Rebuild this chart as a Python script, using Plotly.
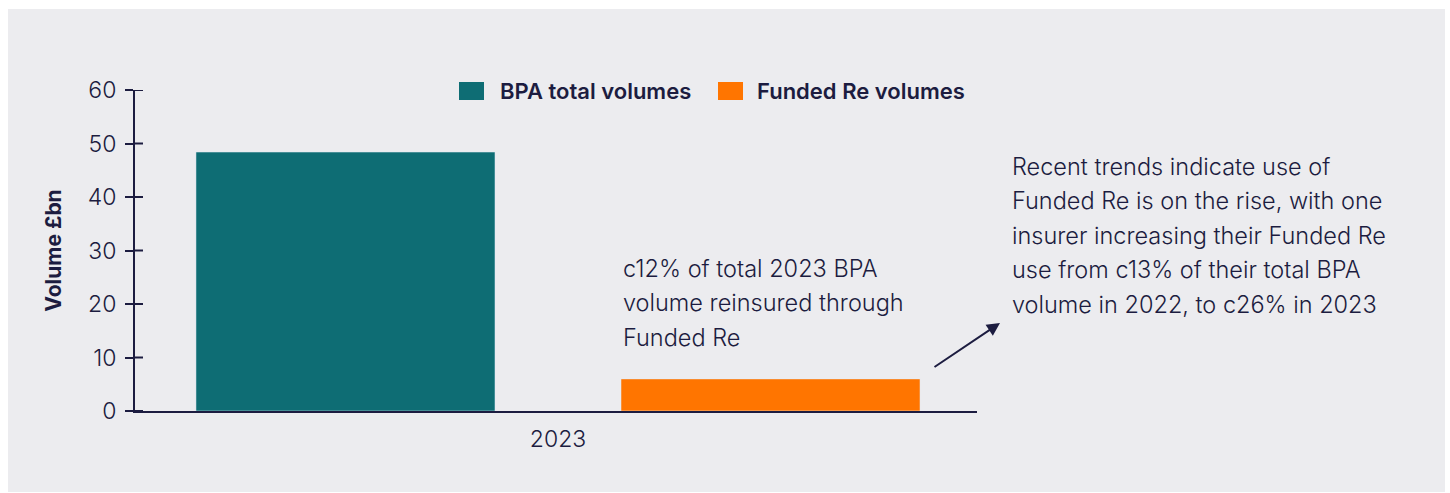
import plotly.graph_objects as go

# ---- data ----
categories = ["2023"]
series_names = ["BPA total volumes", "Funded Re volumes"]
bpa_total = [48.4]
funded_re = [6.0]
y_ticks = [0, 10, 20, 30, 40, 50, 60]
y_title = "Volume £bn"
note_left = ["c12% of total 2023 BPA", "volume reinsured through", "Funded Re"]
note_right = [
    "Recent trends indicate use of",
    "Funded Re is on the rise, with one",
    "insurer increasing their Funded Re",
    "use from c13% of their total BPA",
    "volume in 2022, to c26% in 2023",
]

# ---- styling ----
W, H = 1450, 493
ML, MR, MT, MB = 135, 473, 90, 82
PW, PH = W - ML - MR, H - MT - MB
NAVY = "#1c1c40"
TEAL = "#0e6d74"
ORANGE = "#ff7500"
COLORS = [TEAL, ORANGE]
PANEL = "#ececef"
FONT = "Inter"


def px_x(px):
    return (px - ML) / PW


def px_y(py):
    return (H - MB - py) / PH


fig = go.Figure()
fig.add_trace(go.Bar(x=categories, y=bpa_total, name=series_names[0], marker_color=COLORS[0],
                     showlegend=False))
fig.add_trace(go.Bar(x=categories, y=funded_re, name=series_names[1], marker_color=COLORS[1],
                     showlegend=False))

shapes = [
    dict(type="rect", xref="paper", yref="paper", x0=px_x(8), x1=px_x(1445),
         y0=px_y(492), y1=px_y(9), fillcolor=PANEL, line_width=0, layer="below"),
]
# inner half of the crossing y-axis ticks
for t in y_ticks:
    shapes.append(dict(type="line", xref="paper", yref="y", x0=0, x1=8 / PW, y0=t, y1=t,
                       line=dict(color=NAVY, width=2), layer="above"))

annotations = []
# custom legend (larger swatches like the reference)
legend_swatch_x = [459, 718]
legend_text_x = [498, 755]
for name, col, sx, tx in zip(series_names, COLORS, legend_swatch_x, legend_text_x):
    shapes.append(dict(type="rect", xref="paper", yref="paper", x0=px_x(sx), x1=px_x(sx + 25),
                       y0=px_y(100), y1=px_y(82), fillcolor=col, line_width=0))
    annotations.append(dict(text=name, xref="paper", yref="paper", x=px_x(tx), y=px_y(91),
                            xanchor="left", yanchor="middle", showarrow=False,
                            font=dict(family=FONT, size=22, color=NAVY, weight=600)))

for i, line in enumerate(note_left):
    annotations.append(dict(text=line, xref="paper", yref="paper", x=px_x(621), y=px_y(268 + 34.5 * i),
                            xanchor="left", yanchor="middle", showarrow=False,
                            font=dict(family=FONT, size=23.5, color=NAVY, weight=300)))
for i, line in enumerate(note_right):
    annotations.append(dict(text=line, xref="paper", yref="paper", x=px_x(1010), y=px_y(166 + 34.5 * i),
                            xanchor="left", yanchor="middle", showarrow=False,
                            font=dict(family=FONT, size=23.5, color=NAVY, weight=300)))
annotations.append(dict(text="", xref="paper", yref="paper", x=px_x(1000), y=px_y(323),
                        showarrow=True, ax=-67, ay=45, arrowhead=2, arrowsize=1.3,
                        arrowwidth=2, arrowcolor=NAVY))

fig.update_layout(
    width=W, height=H,
    margin=dict(l=ML, r=MR, t=MT, b=MB, pad=0),
    paper_bgcolor="white",
    plot_bgcolor="rgba(0,0,0,0)",
    barmode="group",
    bargap=0.0,
    bargroupgap=0.2965,
    font=dict(family=FONT, color=NAVY),
    showlegend=False,
    shapes=shapes,
    annotations=annotations,
)
fig.update_yaxes(
    range=[0, 60], tickvals=y_ticks, showgrid=False, zeroline=False,
    showline=True, linecolor=NAVY, linewidth=2,
    ticks="outside", ticklen=8, tickwidth=2, tickcolor=NAVY,
    ticklabelstandoff=4,
    tickfont=dict(family=FONT, size=23, color=NAVY, weight=300),
    title=dict(text=y_title, font=dict(family=FONT, size=21, color=NAVY, weight=700), standoff=20),
)
fig.update_xaxes(
    range=[-0.4976, 0.4929],
    showgrid=False, zeroline=False, showline=True, linecolor=NAVY, linewidth=2,
    ticks="", tickfont=dict(family=FONT, size=23, color=NAVY, weight=300), ticklabelstandoff=6,
)

fig.write_html("out.html")
